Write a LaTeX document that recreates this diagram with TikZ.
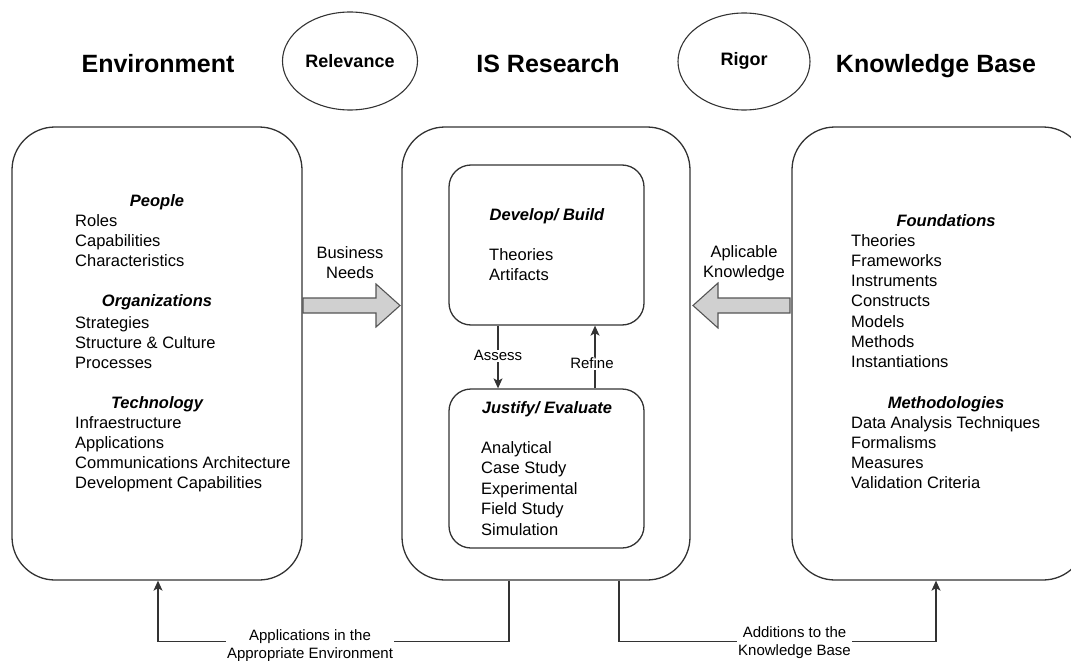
\documentclass[tikz,border=0pt]{standalone}
\usepackage{fontspec}
\setmainfont{Liberation Sans}
\usetikzlibrary{arrows.meta,calc,shapes.geometric}
\definecolor{lineclr}{HTML}{333333}
\definecolor{arrowfill}{HTML}{D0D0D0}
\definecolor{arrowline}{HTML}{555555}
\begin{document}
\begin{tikzpicture}[x=1pt,y=-1pt,
  bigbox/.style={draw=lineclr, line width=1.3pt, rounded corners=43pt, minimum height=453pt, inner sep=0pt},
  smallbox/.style={draw=lineclr, line width=1.3pt, rounded corners=22pt, minimum width=195pt, inner sep=0pt},
  oval/.style={ellipse, draw=lineclr, line width=1.1pt, inner sep=0pt, font=\fontsize{18}{20}\selectfont\bfseries},
  titletxt/.style={font=\fontsize{25}{30}\selectfont\bfseries, anchor=base, inner sep=0pt},
  headtxt/.style={font=\fontsize{16.5}{20}\selectfont\bfseries\itshape, anchor=base, inner sep=0pt},
  listtxt/.style={font=\fontsize{16.5}{20.3}\selectfont, align=left, anchor=base west, inner sep=0pt},
  lbltxt/.style={font=\fontsize{16.5}{20.3}\selectfont, align=center, anchor=base, inner sep=0pt},
  smalllbl/.style={font=\fontsize{15}{18}\selectfont, align=center, fill=white, inner sep=1pt},
  conn/.style={draw=lineclr, line width=1.2pt},
  tip/.style={-{Stealth[length=10pt,width=9pt,inset=2.5pt]}},
  blockarrow/.style={draw=arrowline, fill=arrowfill, line width=1.1pt, line join=miter}
]
\useasboundingbox (0,0) rectangle (1071,661);
\begin{scope}
\clip (0,0) rectangle (1071,661);

% titles
\node[titletxt] (tenv) at (158,73) {Environment};
\node[titletxt] (tisr) at (548,73) {IS Research};
\node[titletxt] (tkb) at (936,73) {Knowledge Base};

% ovals
\node[oval, minimum width=135pt, minimum height=98pt] (rel) at (350,61) {Relevance};
\node[oval, minimum width=132pt, minimum height=97pt, text height=13pt, text depth=4pt] (rig) at (744,61.5) {Rigor};

% big boxes
\node[bigbox, minimum width=290pt] (env) at (157,353.5) {};
\node[bigbox, minimum width=288pt] (isr) at (546,353.5) {};
\node[bigbox, minimum width=294pt] (kb) at (939,353.5) {};

% inner boxes
\node[smallbox, minimum height=160pt] (dev) at (546.5,245) {};
\node[smallbox, minimum height=159pt] (jus) at (546.5,468.5) {};

% environment text (base anchor = last line's baseline)
\node[headtxt] (hpeople) at (157,206) {People};
\node[listtxt] (lpeople) at (75,266.6) {Roles\\Capabilities\\Characteristics};
\node[headtxt] (horg) at (157,306) {Organizations};
\node[listtxt] (lorg) at (75,368.6) {Strategies\\Structure \& Culture\\Processes};
\node[headtxt] (htech) at (157,408) {Technology};
\node[listtxt] (ltech) at (75,488.9) {Infraestructure\\Applications\\Communications Architecture\\Development Capabilities};

% IS research text
\node[headtxt] (hdev) at (547,220) {Develop/ Build};
\node[listtxt] (ldev) at (489,280.3) {Theories\\Artifacts};
\node[headtxt] (hjus) at (547,413) {Justify/ Evaluate};
\node[listtxt, font=\fontsize{16.5}{20.5}\selectfont] (ljus) at (481,535) {Analytical\\Case Study\\Experimental\\Field Study\\Simulation};

% knowledge base text
\node[headtxt] (hfound) at (946,226) {Foundations};
\node[listtxt] (lfound) at (851,367.8) {Theories\\Frameworks\\Instruments\\Constructs\\Models\\Methods\\Instantiations};
\node[headtxt] (hmeth) at (946,408) {Methodologies};
\node[listtxt] (lmeth) at (851,488.9) {Data Analysis Techniques\\Formalisms\\Measures\\Validation Criteria};

% block arrows
\draw[blockarrow] (303,298) -- (376,298) -- (376,284) -- (400,305.5) -- (376,327) -- (376,313) -- (303,313) -- cycle;
\draw[blockarrow] (790,298) -- (718,298) -- (718,283) -- (693,305.5) -- (718,328) -- (718,313) -- (790,313) -- cycle;
\node[lbltxt] (lbus) at (350,278.3) {Business\\Needs};
\node[lbltxt] (lapp) at (744,277.5) {Aplicable\\Knowledge};

% assess / refine
\draw[conn, tip] ([xshift=-48.5pt]dev.south) -- node[smalllbl, pos=0.48] (lassess) {Assess} ([xshift=-48.5pt]jus.north);
\draw[conn, tip] ([xshift=48.5pt]jus.north) -- node[smalllbl, pos=0.4, xshift=-3pt] (lrefine) {Refine} ([xshift=48.5pt]dev.south);

% bottom connectors
\draw[conn, tip] ([xshift=-37pt]isr.south) -- ++(0,61) -| ([xshift=1pt]env.south);
\draw[conn, tip] ([xshift=73pt]isr.south) -- ++(0,61) -| ([xshift=-3pt]kb.south);
\node[smalllbl, anchor=base, inner sep=1pt] (lappl) at (310,658) {Applications in the\\Appropriate Environment};
\node[smalllbl, anchor=base, inner sep=1pt] (ladd) at (794.5,655) {Additions to the\\Knowledge Base};
\end{scope}
\end{tikzpicture}
\end{document}
